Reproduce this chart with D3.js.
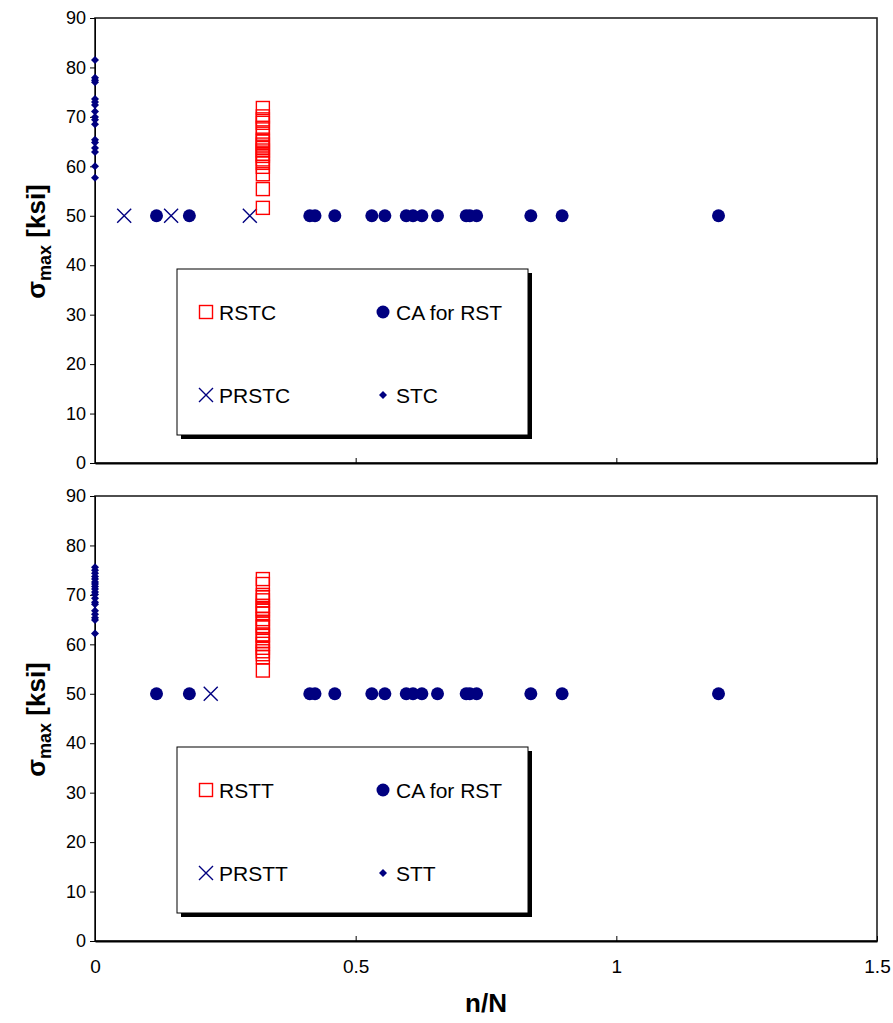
<!DOCTYPE html>
<html>
<head>
<meta charset="utf-8">
<script src="https://cdn.jsdelivr.net/npm/d3@7"></script>
<style>
  html, body { margin: 0; padding: 0; background: #fff; }
  svg { display: block; font-family: "Liberation Sans", Arial, sans-serif; }
</style>
</head>
<body>
<svg id="chart" width="893" height="1023"></svg>
<script>
// ---- data ----
// Compression tests (upper panel)
const rstcX = 0.322;
const rstcY = [71.8, 70.1, 69.5, 68.8, 67.8, 66.6, 65.4, 65.0, 64.4, 63.7, 63.2, 62.5, 62.1, 61.4, 60.7, 59.9, 58.4, 55.4, 51.6];
const prstcX = [0.056, 0.146, 0.297];
const prstcY = [50, 50, 50];
const stcY = [81.5, 77.9, 77.4, 77.0, 73.6, 73.0, 72.4, 71.1, 70.0, 69.4, 68.5, 65.4, 64.8, 63.7, 62.9, 60.0, 57.7];

// Tension tests (lower panel)
const rsttX = 0.322;
const rsttY = [73.2, 72.2, 70.0, 69.5, 68.9, 67.8, 67.2, 66.8, 66.2, 65.1, 64.4, 63.7, 63.4, 62.0, 61.7, 60.7, 60.1, 59.3, 58.6, 58.0, 57.4, 54.7];
const prsttX = [0.222];
const prsttY = [50];
const sttY = [75.6, 75.0, 74.4, 73.7, 73.2, 72.6, 72.2, 71.7, 71.2, 70.6, 70.1, 69.3, 68.5, 68.1, 66.8, 66.1, 65.4, 64.9, 62.2];

// Constant-amplitude reference (both panels)
const caX = [0.118, 0.181, 0.412, 0.422, 0.460, 0.531, 0.556, 0.597, 0.610, 0.627, 0.657, 0.712, 0.719, 0.732, 0.836, 0.896, 1.196];
const caY = 50;

const xTicks = [0, 0.5, 1, 1.5];
const xTickLabels = ["0", "0.5", "1", "1.5"];
const yTicks = [0, 10, 20, 30, 40, 50, 60, 70, 80, 90];

const NAVY = "#000080";
const RED = "#ff0000";

const svg = d3.select("#chart");

const x = d3.scaleLinear().domain([0, 1.5]).range([95, 877]);

const panels = [
  { top: 18, bottom: 463, rx: rstcX, sqY: rstcY, cross: { xs: prstcX, ys: prstcY }, dia: stcY,
    names: ["RSTC", "CA for RST", "PRSTC", "STC"], legend: { x0: 177, y0: 269, x1: 528, y1: 435 }, showXLabels: false },
  { top: 496, bottom: 941, rx: rsttX, sqY: rsttY, cross: { xs: prsttX, ys: prsttY }, dia: sttY,
    names: ["RSTT", "CA for RST", "PRSTT", "STT"], legend: { x0: 177, y0: 747, x1: 528, y1: 913 }, showXLabels: true }
];

function drawSquare(g, cx, cy, s) {
  g.append("rect").attr("x", cx - s / 2).attr("y", cy - s / 2).attr("width", s).attr("height", s)
    .attr("fill", "none").attr("stroke", RED).attr("stroke-width", 1.4);
}
function drawCross(g, cx, cy, s) {
  g.append("path").attr("d", `M${cx - s / 2},${cy - s / 2}L${cx + s / 2},${cy + s / 2}M${cx - s / 2},${cy + s / 2}L${cx + s / 2},${cy - s / 2}`)
    .attr("stroke", NAVY).attr("stroke-width", 1.4).attr("fill", "none");
}
function drawDiamond(g, cx, cy, s) {
  g.append("path").attr("d", `M${cx},${cy - s / 2}L${cx + s / 2},${cy}L${cx},${cy + s / 2}L${cx - s / 2},${cy}Z`)
    .attr("fill", NAVY);
}
function drawDot(g, cx, cy, r) {
  g.append("circle").attr("cx", cx).attr("cy", cy).attr("r", r).attr("fill", NAVY);
}

panels.forEach(p => {
  const y = d3.scaleLinear().domain([0, 90]).range([p.bottom, p.top]);
  const g = svg.append("g");

  // plot-area frame
  g.append("rect").attr("x", x(0)).attr("y", y(90)).attr("width", x(1.5) - x(0)).attr("height", y(0) - y(90))
    .attr("fill", "none").attr("stroke", "#222").attr("stroke-width", 1.6);

  // y axis
  const yAxis = d3.axisLeft(y).tickValues(yTicks).tickSize(5).tickPadding(4).tickFormat(d3.format("d"));
  const ya = g.append("g").attr("transform", `translate(${x(0)},0)`).call(yAxis);
  ya.select(".domain").attr("stroke", "#000");
  ya.selectAll(".tick line").attr("stroke", "#000");
  ya.selectAll("text").attr("font-size", 18).attr("fill", "#000")
    .attr("font-family", "'Liberation Sans', Arial, sans-serif");

  // x axis (ticks point into the plot)
  const xAxis = d3.axisBottom(x).tickValues(xTicks).tickSizeInner(-5).tickSizeOuter(0)
    .tickFormat((d, i) => p.showXLabels ? xTickLabels[i] : "").tickPadding(19);
  const xa = g.append("g").attr("transform", `translate(0,${y(0)})`).call(xAxis);
  xa.select(".domain").attr("stroke", "#000").attr("stroke-width", 2);
  xa.selectAll(".tick line").attr("stroke", "#000");
  xa.selectAll("text").attr("font-size", 19).attr("fill", "#000")
    .attr("font-family", "'Liberation Sans Narrow', 'Arial Narrow', 'Liberation Sans', sans-serif");

  // y title
  const yt = g.append("text")
    .attr("transform", `translate(45,${(p.top + p.bottom) / 2 + 1}) rotate(-90)`)
    .attr("text-anchor", "middle").attr("font-weight", "bold").attr("font-size", 26).attr("fill", "#000");
  yt.append("tspan").text("σ");
  yt.append("tspan").attr("font-size", 18).attr("dy", 6).text("max");
  yt.append("tspan").attr("dy", -6).text(" [ksi]");

  // legend (drawn before marks so the points sit above it)
  const L = p.legend;
  g.append("rect").attr("x", L.x0 + 4).attr("y", L.y0 + 4).attr("width", L.x1 - L.x0).attr("height", L.y1 - L.y0).attr("fill", "#000");
  g.append("rect").attr("x", L.x0).attr("y", L.y0).attr("width", L.x1 - L.x0).attr("height", L.y1 - L.y0)
    .attr("fill", "#fff").attr("stroke", "#000").attr("stroke-width", 1);
  const row1 = L.y0 + 43, row2 = L.y0 + 126;
  const col1 = L.x0 + 29, col2 = L.x0 + 206;
  drawSquare(g, col1, row1, 13);
  drawDot(g, col2, row1, 6.5);
  drawCross(g, col1, row2, 14);
  drawDiamond(g, col2, row2, 8);
  [[col1, row1, p.names[0]], [col2, row1, p.names[1]], [col1, row2, p.names[2]], [col2, row2, p.names[3]]]
    .forEach(([cx, cy, t]) => {
      g.append("text").attr("x", cx + 13).attr("y", cy + 8).attr("font-size", 21).attr("fill", "#000").text(t);
    });

  // marks
  caX.forEach(v => drawDot(g, x(v), y(caY), 6.5));
  p.cross.xs.forEach((v, i) => drawCross(g, x(v), y(p.cross.ys[i]), 14));
  p.sqY.forEach(v => drawSquare(g, x(p.rx), y(v), 13));
  p.dia.forEach(v => drawDiamond(g, x(0), y(v), 8));
});

// x title
svg.append("text").attr("x", x(0.75)).attr("y", 1012).attr("text-anchor", "middle")
  .attr("font-weight", "bold").attr("font-size", 26).attr("fill", "#000")
  .attr("font-family", "'Liberation Sans Narrow', 'Arial Narrow', 'Liberation Sans', sans-serif")
  .text("n/N");
</script>
</body>
</html>
